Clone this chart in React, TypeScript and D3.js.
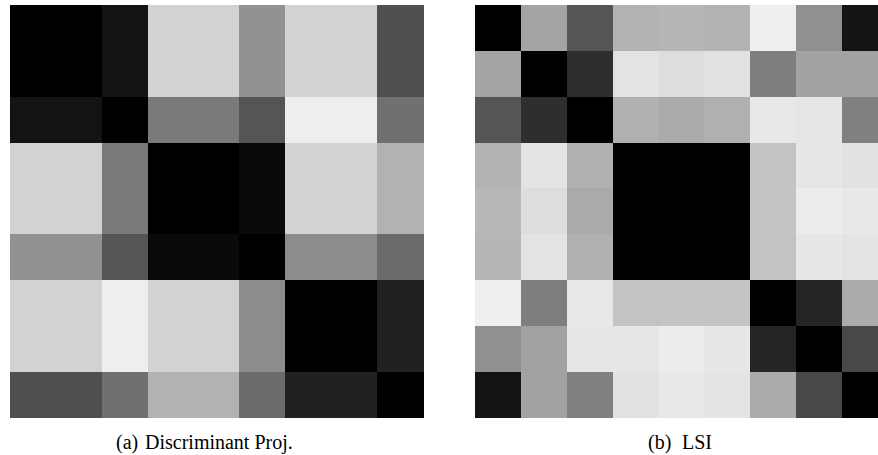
import React from "react";
import * as d3 from "d3";

// Pairwise dissimilarity between 9 items (0 = identical, 1 = most distant)
const items = ["1", "2", "3", "4", "5", "6", "7", "8", "9"];

const discriminantProj: number[][] = [
  [0, 0, 0.075, 0.824, 0.824, 0.573, 0.824, 0.824, 0.31],
  [0, 0, 0.075, 0.824, 0.824, 0.573, 0.824, 0.824, 0.31],
  [0.075, 0.075, 0, 0.478, 0.478, 0.333, 0.933, 0.933, 0.439],
  [0.824, 0.824, 0.478, 0, 0, 0.039, 0.824, 0.824, 0.698],
  [0.824, 0.824, 0.478, 0, 0, 0.039, 0.824, 0.824, 0.698],
  [0.573, 0.573, 0.333, 0.039, 0.039, 0, 0.549, 0.549, 0.42],
  [0.824, 0.824, 0.933, 0.824, 0.824, 0.549, 0, 0, 0.129],
  [0.824, 0.824, 0.933, 0.824, 0.824, 0.549, 0, 0, 0.129],
  [0.31, 0.31, 0.439, 0.698, 0.698, 0.42, 0.129, 0.129, 0],
];

const lsi: number[][] = [
  [0, 0.643, 0.333, 0.702, 0.714, 0.702, 0.933, 0.565, 0.078],
  [0.643, 0, 0.18, 0.89, 0.867, 0.882, 0.494, 0.635, 0.635],
  [0.333, 0.18, 0, 0.69, 0.667, 0.69, 0.91, 0.902, 0.502],
  [0.702, 0.89, 0.69, 0, 0, 0, 0.765, 0.902, 0.886],
  [0.722, 0.867, 0.667, 0, 0, 0, 0.769, 0.925, 0.91],
  [0.714, 0.89, 0.69, 0, 0, 0, 0.765, 0.906, 0.894],
  [0.933, 0.494, 0.91, 0.765, 0.769, 0.765, 0, 0.145, 0.671],
  [0.565, 0.635, 0.902, 0.902, 0.925, 0.906, 0.145, 0, 0.282],
  [0.078, 0.635, 0.502, 0.886, 0.91, 0.894, 0.671, 0.282, 0],
];

const captionLabels = ["(a)", "(b)"];
const captionTitles = ["Discriminant Proj.", "LSI"];

const W = 878;
const H = 455;
const SERIF = "Liberation Serif, Times New Roman, Times, DejaVu Serif, serif";

const gray = d3.scaleLinear<string>().domain([0, 1]).range(["#000000", "#ffffff"]);

type PanelProps = {
  data: number[][];
  x0: number;
  x1: number;
  y0: number;
  y1: number;
  labelX: number;
  titleX: number;
  label: string;
  title: string;
};

function Panel({ data, x0, x1, y0, y1, labelX, titleX, label, title }: PanelProps) {
  const xs = d3.scaleBand<string>().domain(items).range([x0, x1]);
  const ys = d3.scaleBand<string>().domain(items).range([y0, y1]);
  const bw = xs.bandwidth();
  const bh = ys.bandwidth();
  return (
    <g>
      {data.map((row, i) =>
        row.map((v, j) => (
          <rect
            key={`${i}-${j}`}
            x={xs(items[j])}
            y={ys(items[i])}
            width={bw + 0.5}
            height={bh + 0.5}
            fill={gray(v)}
            shapeRendering="crispEdges"
          />
        ))
      )}
      <text x={labelX} y={449} style={{ fontFamily: SERIF, fontSize: "20px" }} fill="#000">
        {label}
      </text>
      <text x={titleX} y={449} style={{ fontFamily: SERIF, fontSize: "20px" }} fill="#000">
        {title}
      </text>
    </g>
  );
}

export default function App() {
  return (
    <div style={{ position: "absolute", left: 0, top: 0, width: W, height: H, overflow: "hidden", background: "#fff" }}>
      <svg width={W} height={H} style={{ display: "block" }}>
        <rect x={0} y={0} width={W} height={H} fill="#fff" />
        <Panel
          data={discriminantProj}
          x0={10}
          x1={423}
          y0={5}
          y1={417.7}
          labelX={116}
          titleX={145}
          label={captionLabels[0]}
          title={captionTitles[0]}
        />
        <Panel
          data={lsi}
          x0={475}
          x1={888}
          y0={5}
          y1={417.7}
          labelX={648}
          titleX={682}
          label={captionLabels[1]}
          title={captionTitles[1]}
        />
      </svg>
    </div>
  );
}
